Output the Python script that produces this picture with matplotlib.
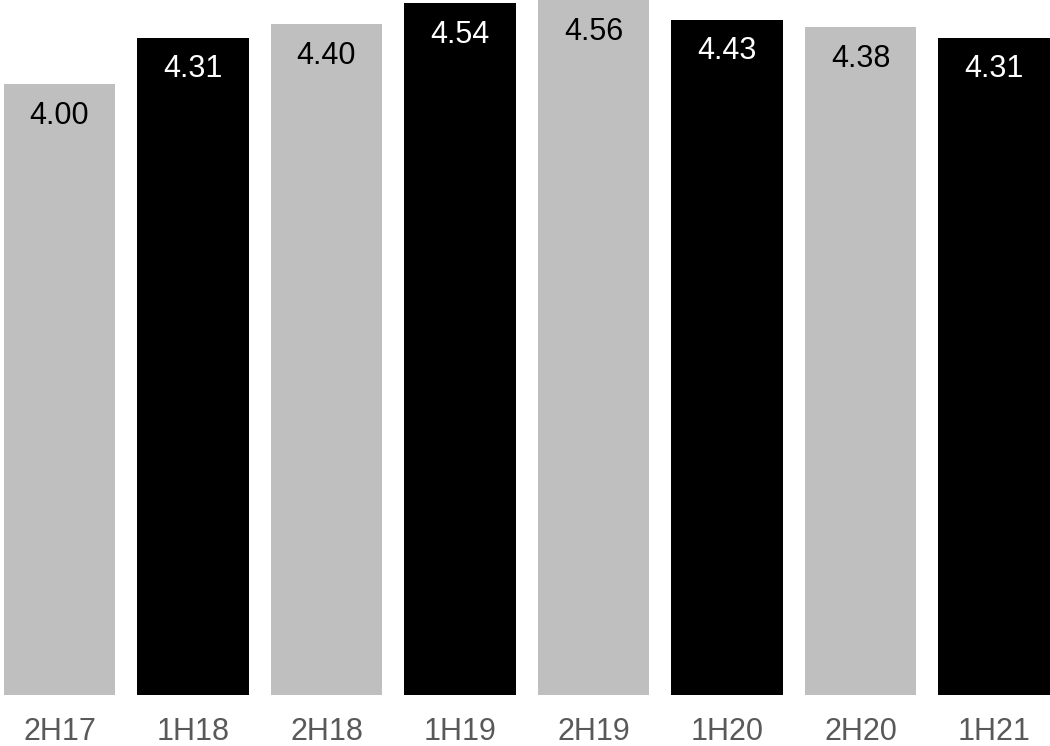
import matplotlib
matplotlib.use("Agg")
import matplotlib.pyplot as plt
import numpy as np

plt.rcParams['font.family'] = ['Liberation Sans', 'DejaVu Sans']

# half-year periods and values
periods = ["2H17", "1H18", "2H18", "1H19", "2H19", "1H20", "2H20", "1H21"]
values = [4.00, 4.31, 4.40, 4.54, 4.56, 4.43, 4.38, 4.31]
bar_colors = ["#BFBFBF", "#000000"] * 4
text_colors = ["#000000", "#FFFFFF"] * 4

base = -0.073  # bars start a little below zero in the original

fig = plt.figure(figsize=(10.5, 7.46), dpi=100)
ax = fig.add_axes([0, 0.0684, 1, 0.9316])

x = np.arange(len(periods))
heights = [v - base for v in values]
ax.bar(x, heights, bottom=base, width=0.835, color=bar_colors)

for xi, v, c in zip(x, values, text_colors):
    ax.annotate("%.2f" % v, (xi, v), xytext=(0, -23), textcoords="offset points",
                ha="center", va="center", fontsize=22, color=c)

ax.set_xlim(-0.4457, 7.42)
ax.set_ylim(base, 4.56)
ax.set_xticks(x)
ax.set_xticklabels(periods, fontsize=22, color="#595959")
ax.tick_params(axis="x", length=0, pad=16)
ax.set_yticks([])
for s in ax.spines.values():
    s.set_visible(False)
ax.patch.set_alpha(0)

fig.savefig("out.png", dpi=100)
